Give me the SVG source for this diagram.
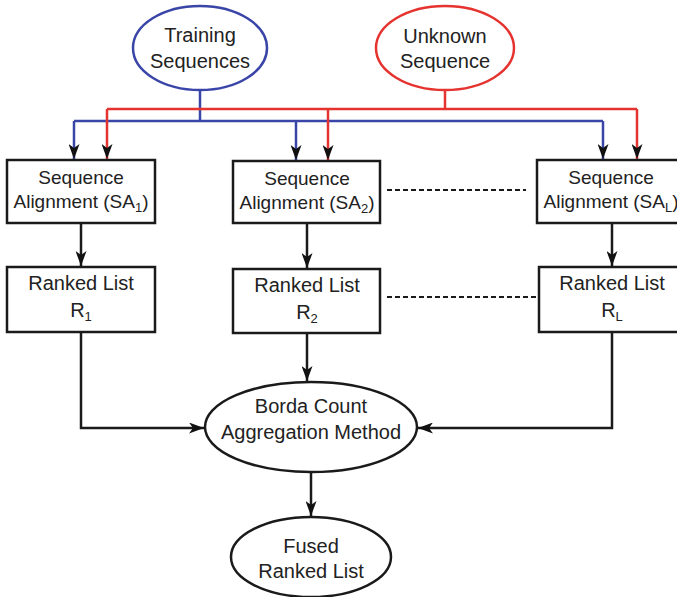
<svg xmlns="http://www.w3.org/2000/svg" width="677" height="597" viewBox="0 0 677 597">
  <defs>
    <marker id="arrow" viewBox="0 0 15 11" refX="15" refY="5.5" markerWidth="15" markerHeight="11" markerUnits="userSpaceOnUse" orient="auto">
      <path d="M0,0 L15,5.5 L0,11 L4,5.5 Z" fill="#111"/>
    </marker>
    <style>
      .box { fill: #fff; stroke: #1a1a1a; stroke-width: 2.5; }
      .oval { fill: #fff; stroke: #1a1a1a; stroke-width: 2.5; }
      .blue { fill: none; stroke: #3a45a8; stroke-width: 2.5; }
      .red { fill: none; stroke: #e53330; stroke-width: 2.5; }
      .edge { fill: none; stroke: #1a1a1a; stroke-width: 2.5; }
      .dash { fill: none; stroke: #1a1a1a; stroke-width: 2.2; stroke-dasharray: 5 3; }
      text { font-family: "Liberation Sans", Arial, sans-serif; fill: #222; text-anchor: middle; }
      .t19 { font-size: 19px; }
      .t20 { font-size: 20px; }
      .sub { font-size: 13px; }
    </style>
  </defs>

  <!-- connectors -->
  <g id="connectors">
    <!-- training sequences feed (blue) -->
    <path class="blue" d="M200,90 V121"/>
    <path class="blue" d="M74,121 H603"/>
    <path class="blue" d="M74,121 V159" marker-end="url(#arrow)"/>
    <path class="blue" d="M296,121 V160" marker-end="url(#arrow)"/>
    <path class="blue" d="M603,121 V159" marker-end="url(#arrow)"/>
    <!-- unknown sequence feed (red) -->
    <path class="red" d="M445,90 V109"/>
    <path class="red" d="M107,109 H637"/>
    <path class="red" d="M107,109 V159" marker-end="url(#arrow)"/>
    <path class="red" d="M328,109 V160" marker-end="url(#arrow)"/>
    <path class="red" d="M637,109 V159" marker-end="url(#arrow)"/>
    <!-- alignment to ranked lists -->
    <path class="edge" d="M81,223 V266" marker-end="url(#arrow)"/>
    <path class="edge" d="M307,223 V268" marker-end="url(#arrow)"/>
    <path class="edge" d="M612,223 V266" marker-end="url(#arrow)"/>
    <!-- ranked lists to aggregation -->
    <path class="edge" d="M81,332 V428 H204" marker-end="url(#arrow)"/>
    <path class="edge" d="M307,333 V381" marker-end="url(#arrow)"/>
    <path class="edge" d="M612,332 V428 H418" marker-end="url(#arrow)"/>
    <!-- aggregation to fused list -->
    <path class="edge" d="M311,472 V516" marker-end="url(#arrow)"/>
    <!-- ellipsis between columns -->
    <path class="dash" d="M387,190 H526"/>
    <path class="dash" d="M387,297 H536"/>
  </g>

  <g id="training">
    <ellipse cx="200" cy="48" rx="67" ry="42" fill="#fff" stroke="#3a45a8" stroke-width="2.5"/>
    <text class="t20" x="200" y="42">Training</text>
    <text class="t20" x="200" y="68">Sequences</text>
  </g>

  <g id="unknown">
    <ellipse cx="445" cy="48" rx="69" ry="42" fill="#fff" stroke="#e53330" stroke-width="2.5"/>
    <text class="t20" x="445" y="43">Unknown</text>
    <text class="t20" x="445" y="68">Sequence</text>
  </g>

  <g id="sa1">
    <rect class="box" x="7" y="160" width="148" height="63"/>
    <text class="t19" x="81" y="184">Sequence</text>
    <text class="t19" x="81" y="208">Alignment (SA<tspan class="sub" dy="4">1</tspan><tspan dy="-4">)</tspan></text>
  </g>

  <g id="sa2">
    <rect class="box" x="233" y="161" width="147" height="62"/>
    <text class="t19" x="307" y="185">Sequence</text>
    <text class="t19" x="307" y="209">Alignment (SA<tspan class="sub" dy="4">2</tspan><tspan dy="-4">)</tspan></text>
  </g>

  <g id="saL">
    <rect class="box" x="537" y="160" width="150" height="63"/>
    <text class="t19" x="611" y="184">Sequence</text>
    <text class="t19" x="611" y="208">Alignment (SA<tspan class="sub" dy="4">L</tspan><tspan dy="-4">)</tspan></text>
  </g>

  <g id="r1">
    <rect class="box" x="7" y="267" width="148" height="65"/>
    <text class="t20" x="81" y="290">Ranked List</text>
    <text class="t20" x="81" y="317">R<tspan class="sub" dy="4">1</tspan></text>
  </g>

  <g id="r2">
    <rect class="box" x="233" y="269" width="147" height="64"/>
    <text class="t20" x="307" y="292">Ranked List</text>
    <text class="t20" x="307" y="319">R<tspan class="sub" dy="4">2</tspan></text>
  </g>

  <g id="rL">
    <rect class="box" x="539" y="267" width="148" height="65"/>
    <text class="t20" x="612" y="290">Ranked List</text>
    <text class="t20" x="612" y="317">R<tspan class="sub" dy="4">L</tspan></text>
  </g>

  <g id="borda">
    <ellipse class="oval" cx="311" cy="427" rx="106" ry="45"/>
    <text class="t20" x="311" y="413">Borda Count</text>
    <text class="t20" x="311" y="439">Aggregation Method</text>
  </g>

  <g id="fused">
    <ellipse class="oval" cx="311" cy="557" rx="80" ry="40"/>
    <text class="t20" x="311" y="553">Fused</text>
    <text class="t20" x="311" y="578">Ranked List</text>
  </g>
</svg>
